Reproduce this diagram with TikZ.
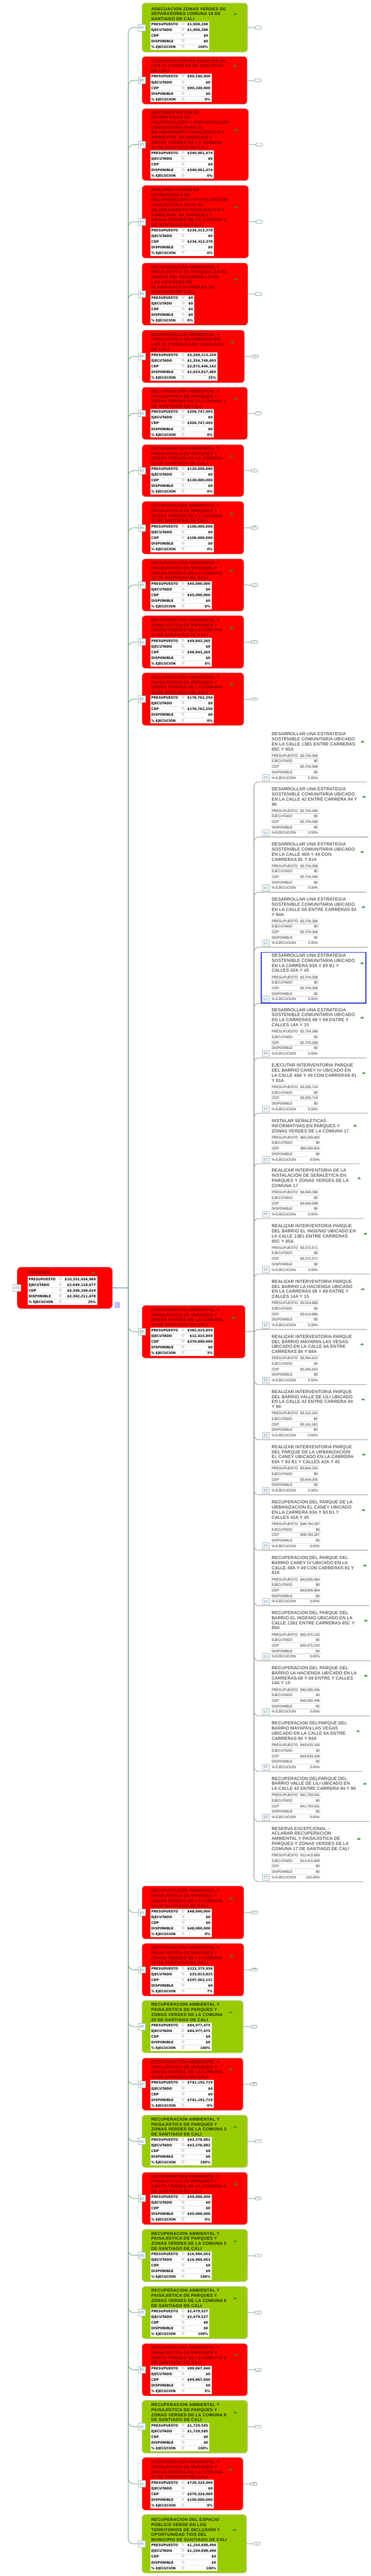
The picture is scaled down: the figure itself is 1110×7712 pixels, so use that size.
\documentclass[tikz,border=0pt]{standalone}
\usepackage{fontspec}
\setmainfont{Liberation Sans}
\newfontfamily\mtf[LetterSpace=5]{Liberation Sans}
\newfontfamily\rtf[LetterSpace=3]{Liberation Sans}
\newfontfamily\dvs{DejaVu Sans}
\usetikzlibrary{calc,fit}
\definecolor{mred}{HTML}{FF0000}
\definecolor{mgreen}{HTML}{99CC00}
\definecolor{tred}{HTML}{740000}
\definecolor{tgreen}{HTML}{1C2600}
\definecolor{lcol}{HTML}{7DAE8C}
\definecolor{rcol}{HTML}{9A9A9A}
\definecolor{rootc}{HTML}{3E6E8E}
\definecolor{trig}{HTML}{2F8F3F}
\definecolor{icb}{HTML}{9FB8A8}
\definecolor{iconfill}{HTML}{A9BFD9}
\definecolor{selblue}{HTML}{1F2FD0}
\tikzset{
 mbox/.style={draw=black!22, line width=0.5pt, rounded corners=5pt, inner sep=0pt},
 rbox/.style={fill=mred},
 gbox/.style={fill=mgreen},
 rboxt/.style={text=tred},
 gboxt/.style={text=tgreen},
 mtitle/.style={inner sep=0pt, align=left, font=\mtf\bfseries\fontsize{6.3}{7.5}\selectfont},
 mtab/.style={fill=white, inner sep=0pt, font=\dvs\bfseries\fontsize{4.9}{6}\selectfont},
 rtab/.style={fill=white, inner sep=0pt, font=\fontsize{5.2}{6}\selectfont, text=black!85},
 rtitle/.style={inner sep=0pt, align=left, text=black!88, font=\rtf\fontsize{6.5}{7.6}\selectfont},
 rowline/.style={draw=black!12, line width=0.5pt},
 rrowline/.style={draw=black!13, line width=0.9pt},
 lconn/.style={draw=lcol, line width=0.9pt, rounded corners=8pt},
 rconn/.style={draw=rcol, line width=0.8pt, rounded corners=7pt},
 rootlink/.style={draw=rootc, line width=0.8pt},
 mlink/.style={draw=lcol, line width=0.6pt},
 pill/.style={draw=lcol!80!black, fill=white, line width=0.5pt, rounded corners=2pt, minimum width=10pt, minimum height=4.4pt, inner sep=0pt, font=\fontsize{3.4}{3.6}\selectfont, text=black!70},
 noteicon/.style={draw=icb, fill=white, line width=0.5pt, minimum width=11pt, minimum height=10pt, inner sep=0pt,
   path picture={\fill[iconfill] ($(path picture bounding box.center)+(-6,-4)$) rectangle ($(path picture bounding box.center)+(6,4)$);
     \draw[white, line width=0.3pt] ($(path picture bounding box.center)+(-4,-1)$) -- ($(path picture bounding box.center)+(4,-1)$)
       ($(path picture bounding box.center)+(-4,1.5)$) -- ($(path picture bounding box.center)+(4,1.5)$);}},
 docicon/.style={draw=blue!60, fill=white, line width=0.5pt, minimum width=6pt, minimum height=7pt, inner sep=0pt,
   path picture={\draw[blue!60, line width=0.4pt] ($(path picture bounding box.center)+(-3,-3)$) -- ($(path picture bounding box.center)+(3,-3)$)
       ($(path picture bounding box.center)+(-3,0)$) -- ($(path picture bounding box.center)+(3,0)$)
       ($(path picture bounding box.center)+(-3,3)$) -- ($(path picture bounding box.center)+(3,3)$);}},
 uptri/.pic={\fill[trig] (-6,2.5) -- (6,2.5) -- (0,-3) -- cycle;},
}
\newcommand\gear{\makebox[7pt]{\textcolor{black!30}{\dvs\mdseries\fontsize{6.2}{6}\selectfont ⚙}}}
\newcommand\RS{\rule[-2.6pt]{0pt}{8.5pt}}
\newcommand\RSr{\rule[-2.4pt]{0pt}{8.25pt}}
\newcommand\MLB[1]{\makebox[44pt][l]{#1}}
\newcommand\RLB[1]{\makebox[43pt][l]{#1}}
% middle node: name, top, bottom, right, style, title
\newcommand\MN[6]{%
 \node[mbox,#5,fit={(425,#2) (#4,#3)}] (#1) {};
 \node[noteicon] (#1i) at (#1.west) {};
 \draw[lconn] (lj) |- (#1i.west);
 \node[mtitle,#5t,anchor=south west] (#1t) at ($(#1.south west)+(28,-95)$) {#6};
 \coordinate (#1tx) at ($(#1.north east)+(-37,0)$);
 \pic at (#1tx |- #1t.center) {uptri};
}
% middle table: name, 5 values
\newcommand\MT[6]{%
 \node[mtab,anchor=south west] (#1tab) at ($(#1.south west)+(25,-6)$) {\renewcommand\arraystretch{0}%
  \begin{tabular}{@{\hspace{1.5pt}}l@{}c@{\hspace{3pt}}r@{\hspace{2pt}}}
  \MLB{PRESUPUESTO}&\gear&#2\RS\\
  \MLB{EJECUTADO}&\gear&#3\RS\\
  \MLB{CDP}&\gear&#4\RS\\
  \MLB{DISPONIBLE}&\gear&#5\RS\\
  \MLB{\% EJECUCION}&\gear&#6\RS
  \end{tabular}};
 \foreach \k in {1,...,4} \draw[rowline] ($(#1tab.north west)+(0,17*\k)$) -- ($(#1tab.north east)+(0,17*\k)$);
}
% marker
\newcommand\MK[2]{%
 \node[pill] (#1m) at ($(#1.east)+(31,0)$) {#2};
 \draw[mlink] (#1.east) -- (#1m.west);
}
% right item: name, y underline, triangle x, title, 5 values
\newcommand\RI[9]{%
 \coordinate (#1e) at ({#3+13},#2);
 \node[rtitle,anchor=south west] (#1) at (813,{#2-93}) {#4};
 \coordinate (#1tx) at (#3,#2);
 \pic at (#1tx |- #1.center) {uptri};
 \node[rtab,anchor=north west] (#1tab) at (811,{#2-87}) {\renewcommand\arraystretch{0}%
  \begin{tabular}{@{\hspace{1pt}}l@{}r@{\hspace{2pt}}}
  \RLB{PRESUPUESTO}&#5\RSr\\
  \RLB{EJECUTADO}&#6\RSr\\
  \RLB{CDP}&#7\RSr\\
  \RLB{DISPONIBLE}&#8\RSr\\
  \RLB{\% EJECUCION}&#9\RSr
  \end{tabular}};
 \foreach \k in {0,...,4} \draw[rrowline] ($(#1tab.north west)+(0,16.5*\k)$) -- ($(#1tab.north east)+(0,16.5*\k)$);
 \node[noteicon, minimum width=10pt, minimum height=9pt] (#1i) at (795,{#2-13}) {};
 \draw[rconn] (rj) |- (#1e);
}
\begin{document}
\begin{tikzpicture}[x=0.5pt,y=-0.5pt]
\useasboundingbox (0,0) rectangle (1110,7712);
\fill[white] (0,0) rectangle (1110,7712);
\coordinate (lj) at (384,3856);
\coordinate (rj) at (760,3987);

% root
\node[mbox,rbox,rounded corners=6pt,fit={(51,3793) (337,3918)}] (root) {};
\node[mtab,anchor=south west] (roottab) at ($(root.south west)+(32,-12)$) {\renewcommand\arraystretch{0}%
  \begin{tabular}{@{\hspace{1.5pt}}l@{}c@{\hspace{3pt}}r@{\hspace{2pt}}}
  \MLB{PRESUPUESTO}&\gear&\$10,351,436,969\RS\\
  \MLB{EJECUTADO}&\gear&\$2,649,118,677\RS\\
  \MLB{CDP}&\gear&\$5,340,106,614\RS\\
  \MLB{DISPONIBLE}&\gear&\$2,362,211,678\RS\\
  \MLB{\% EJECUCION}&\gear&25\%\RS
  \end{tabular}};
\foreach \k in {1,...,4} \draw[rowline] ($(roottab.north west)+(0,17*\k)$) -- ($(roottab.north east)+(0,17*\k)$);
\node[mtitle,rboxt,anchor=south west] (roott) at ($(roottab.north west)+(3,-4)$) {PARQUES};
\coordinate (roottx) at (279,0);
\pic at (roottx |- roott.center) {uptri};
\node[noteicon] (rooti) at (root.west) {};
\node[docicon] (rootdoc) at (351,3906) {};
\draw[rootlink] (root.east) -- (lj);

% middle column
\MN{m1}{9}{156}{741}{gbox}{ADECUACION ZONAS VERDES DE\\SEPARADORES  COMUNA 16 DE\\SANTIAGO DE CALI}
\MT{m1}{\$1,900,288}{\$1,900,288}{\$0}{\$0}{100\%}
\MK{m1}{}
\MN{m2}{169}{312}{740}{rbox}{CONSTRUCCIÓN DE PARQUES EN\\LAS 22 COMUNAS DE SANTIAGO\\DE CALI}
\MT{m2}{\$90,240,000}{\$0}{\$90,240,000}{\$0}{0\%}
\MK{m2}{}
\MN{m3}{325}{541}{744}{rbox}{IMPLEMENTACIÓN DE\\ESTRATEGIAS DE\\RECUPERACIÓN Y PARTICIPACIÓN\\COMUNITARIA PARA EL\\MEJORAMIENTO PAISAJÍSTICO Y\\AMBIENTAL DE PARQUES Y\\ZONAS VERDES DE LA COMUNA\\20 DE SANTIAGO DE CALI}
\MT{m3}{\$340,001,474}{\$0}{\$0}{\$340,001,474}{0\%}
\MK{m3}{}
\MN{m4}{555}{773}{744}{rbox}{IMPLEMENTACIÓN DE\\ESTRATEGIAS DE\\RECUPERACION Y PARTICIPACIÓN\\COMUNITARIA PARA EL\\MEJORAMIENTO PAISAJÍSTICO Y\\AMBIENTAL DE PARQUES Y\\ZONAS VERDES DE LA COMUNA 6\\DE SANTIAGO DE CALI.}
\MT{m4}{\$234,313,378}{\$0}{\$234,313,378}{\$0}{0\%}
\MK{m4}{}
\MN{m5}{787}{974}{742}{rbox}{RECUPERACIÓN AMBIENTAL Y\\PAISAJÍSTICA DE PARQUES EN EL\\MARCO DEL DESARROLLO DE\\LAS UNIDADES DE\\PLANIFICACIÓN URBANA DE\\SANTIAGO DE CALI.}
\MT{m5}{\$0}{\$0}{\$0}{\$0}{0\%}
\MK{m5}{}
\MN{m6}{988}{1146}{732}{rbox}{RECUPERACION AMBIENTAL Y\\PAISAJISTICA DE PARQUES EN\\LAS 22 COMUNAS DE SANTIAGO\\DE CALI}
\MT{m6}{\$5,260,213,320}{\$1,354,749,693}{\$2,872,446,142}{\$1,033,017,485}{25\%}
\MK{m6}{27}
\MN{m7}{1159}{1316}{741}{rbox}{RECUPERACIÓN AMBIENTAL Y\\PAISAJISTICA DE PARQUES Y\\ZONAS VERDES DE LA COMUNA 1\\DE SANTIAGO DE CALI}
\MT{m7}{\$304,747,493}{\$0}{\$304,747,493}{\$0}{0\%}
\MK{m7}{}
\MN{m8}{1331}{1487}{730}{rbox}{RECUPERACION AMBIENTAL Y\\PAISAJISTICA DE PARQUES Y\\ZONAS VERDES DE LA COMUNA\\10 DE SANTIAGO DE CALI}
\MT{m8}{\$120,000,000}{\$0}{\$120,000,000}{\$0}{0\%}
\MK{m8}{4}
\MN{m9}{1501}{1659}{730}{rbox}{RECUPERACION AMBIENTAL Y\\PAISAJISTICA DE PARQUES Y\\ZONAS VERDES DE LA COMUNA\\11 DE SANTIAGO DE CALI}
\MT{m9}{\$100,000,000}{\$0}{\$100,000,000}{\$0}{0\%}
\MK{m9}{8}
\MN{m10}{1673}{1830}{730}{rbox}{RECUPERACION AMBIENTAL Y\\PAISAJISTICA DE PARQUES Y\\ZONAS VERDES DE LA COMUNA\\12 DE SANTIAGO DE CALI}
\MT{m10}{\$45,000,000}{\$0}{\$45,000,000}{\$0}{0\%}
\MK{m10}{2}
\MN{m11}{1843}{2001}{730}{rbox}{RECUPERACION AMBIENTAL Y\\PAISAJISTICA DE PARQUES Y\\ZONAS VERDES DE LA COMUNA\\13 DE SANTIAGO DE CALI}
\MT{m11}{\$49,843,265}{\$0}{\$49,843,265}{\$0}{0\%}
\MK{m11}{2}
\MN{m12}{2014}{2172}{730}{rbox}{RECUPERACIÓN AMBIENTAL Y\\PAISAJISTICA DE PARQUES Y\\ZONAS VERDES DE LA COMUNA\\15 DE SANTIAGO DE CALI}
\MT{m12}{\$176,762,256}{\$0}{\$176,762,256}{\$0}{0\%}
\MK{m12}{12}
\MN{m13}{3908}{4066}{734}{rbox}{RECUPERACION AMBIENTAL Y\\PAISAJISTICA DE PARQUES Y\\ZONAS VERDES DE LA COMUNA\\17 DE SANTIAGO DE CALI}
\MT{m13}{\$382,415,859}{\$12,415,859}{\$370,000,000}{\$0}{3\%}
\draw[rconn] (m13.east) -- (rj);
\MN{m14}{5646}{5805}{730}{rbox}{RECUPERACION AMBIENTAL Y\\PAISAJISTICA DE PARQUES Y\\ZONAS VERDES DE LA COMUNA\\18 DE SANTIAGO DE CALI}
\MT{m14}{\$48,000,000}{\$0}{\$0}{\$48,000,000}{0\%}
\MK{m14}{4}
\MN{m15}{5818}{5976}{730}{rbox}{RECUPERACION AMBIENTAL Y\\PAISAJISTICA DE PARQUES Y\\ZONAS VERDES DE LA COMUNA\\19 DE SANTIAGO DE CALI}
\MT{m15}{\$323,375,956}{\$25,813,825}{\$297,562,131}{\$0}{7\%}
\MK{m15}{15}
\MN{m16}{5989}{6146}{728}{gbox}{RECUPERACION AMBIENTAL Y\\PAISAJISTICA DE PARQUES Y\\ZONAS VERDES DE LA COMUNA\\20 DE SANTIAGO DE CALI}
\MT{m16}{\$84,977,475}{\$84,977,475}{\$0}{\$0}{100\%}
\MK{m16}{1}
\MN{m17}{6161}{6318}{728}{rbox}{RECUPERACIÓN AMBIENTAL Y\\PAISAJÍSTICA DE PARQUES Y\\ZONAS VERDES DE LA COMUNA\\22 DE SANTIAGO DE CALI}
\MT{m17}{\$741,192,719}{\$0}{\$0}{\$741,192,719}{0\%}
\MK{m17}{16}
\MN{m18}{6332}{6489}{741}{gbox}{RECUPERACION AMBIENTAL Y\\PAISAJISTICA DE PARQUES Y\\ZONAS VERDES DE LA COMUNA 3\\DE SANTIAGO DE CALI}
\MT{m18}{\$43,378,882}{\$43,378,882}{\$0}{\$0}{100\%}
\MK{m18}{1}
\MN{m19}{6503}{6660}{741}{rbox}{RECUPERACION AMBIENTAL Y\\PAISAJISTICA DE PARQUES Y\\ZONAS VERDES DE LA COMUNA 4\\DE SANTIAGO DE CALI}
\MT{m19}{\$50,000,000}{\$0}{\$0}{\$50,000,000}{0\%}
\MK{m19}{2}
\MN{m20}{6674}{6831}{741}{gbox}{RECUPERACION AMBIENTAL Y\\PAISAJISTICA DE PARQUES Y\\ZONAS VERDES DE LA COMUNA 5\\DE SANTIAGO DE CALI}
\MT{m20}{\$16,984,053}{\$16,984,053}{\$0}{\$0}{100\%}
\MK{m20}{1}
\MN{m21}{6845}{7002}{741}{gbox}{RECUPERACION AMBIENTAL Y\\PAISAJISTICA DE PARQUES Y\\ZONAS VERDES DE LA COMUNA 6\\DE SANTIAGO DE CALI}
\MT{m21}{\$2,479,527}{\$2,479,527}{\$0}{\$0}{100\%}
\MK{m21}{1}
\MN{m22}{7016}{7173}{741}{rbox}{RECUPERACIÓN AMBIENTAL Y\\PAISAJISTICA DE PARQUES Y\\ZONAS VERDES DE LA COMUNA 8\\DE SANTIAGO DE CALI}
\MT{m22}{\$99,867,040}{\$0}{\$99,867,040}{\$0}{0\%}
\MK{m22}{2}
\MN{m23}{7186}{7344}{741}{gbox}{RECUPERACION AMBIENTAL Y\\PAISAJISTICA DE PARQUES Y\\ZONAS VERDES DE LA COMUNA 9\\DE SANTIAGO DE CALI}
\MT{m23}{\$1,720,585}{\$1,720,585}{\$0}{\$0}{100\%}
\MK{m23}{1}
\MN{m24}{7357}{7515}{728}{rbox}{RECUPERACION AMBIENTAL Y\\PASIAJISTICA DE PARQUES Y\\ZONAS VERDES DE LA COMUNA\\21 DE SANTIAGO DE CALI}
\MT{m24}{\$729,324,909}{\$0}{\$579,324,909}{\$150,000,000}{0\%}
\MK{m24}{26}
\MN{m25}{7528}{7703}{738}{gbox}{RECUPERACION DEL ESPACIO\\PÚBLICO VERDE EN LOS\\TERRITORIOS DE INCLUSIÓN Y\\OPORTUNIDAD TIOS DEL\\MUNICIPIO DE SANTIAGO DE CALI}
\MT{m25}{\$1,104,698,490}{\$1,104,698,490}{\$0}{\$0}{100\%}
\MK{m25}{1}

% right column (children of comuna 17)
\RI{r1}{2341}{1085}{DESARROLLAR UNA ESTRATEGIA\\SOSTENIBLE COMUNITARIA UBICADO\\EN LA CALLE 13B1 ENTRE CARRERAS\\85C Y 85A}{\$2,704,368}{\$0}{\$2,704,368}{\$0}{0.00\%}
\RI{r2}{2506}{1090}{DESARROLLAR UNA ESTRATEGIA\\SOSTENIBLE COMUNITARIA UBICADO\\EN LA CALLE 42 ENTRE CARRERA 94 Y\\96}{\$2,704,368}{\$0}{\$2,704,368}{\$0}{0.00\%}
\RI{r3}{2671}{1084}{DESARROLLAR UNA ESTRATEGIA\\SOSTENIBLE COMUNITARIA UBICADO\\EN LA CALLE 48A Y 49 CON\\CARRERAS 81 Y 81A}{\$2,704,368}{\$0}{\$2,704,368}{\$0}{0.00\%}
\RI{r4}{2836}{1088}{DESARROLLAR UNA ESTRATEGIA\\SOSTENIBLE COMUNITARIA UBICADO\\EN LA CALLE 6A ENTRE CARRERAS 84\\Y 84A}{\$2,704,368}{\$0}{\$2,704,368}{\$0}{0.00\%}
\RI{r5}{3004}{1084}{DESARROLLAR UNA ESTRATEGIA\\SOSTENIBLE COMUNITARIA UBICADO\\EN LA CARRERA 83A  Y 83 B1 Y\\CALLES 42A Y 45}{\$2,704,368}{\$0}{\$2,704,368}{\$0}{0.00\%}
\node[draw=selblue, line width=1pt, inner sep=0pt, fit={(782,2851) (1095,3003)}] (sel) {};
\RI{r6}{3167}{1084}{DESARROLLAR UNA ESTRATEGIA\\SOSTENIBLE COMUNITARIA UBICADO\\EN LA CARRERAS 68 Y 69 ENTRE Y\\CALLES 14A Y 15}{\$2,704,368}{\$0}{\$2,704,368}{\$0}{0.00\%}
\RI{r7}{3333}{1089}{EJECUTAR INTERVENTORIA PARQUE\\DEL BARRIO CANEY IV UBICADO EN\\LA CALLE 48A Y 49 CON CARRERAS 81\\Y 81A}{\$3,255,724}{\$0}{\$3,255,724}{\$0}{0.00\%}
\RI{r8}{3484}{1063}{INSTALAR SEÑALETICAS\\INFORMATIVAS EN PARQUES Y\\ZONAS VERDES DE LA COMUNA 17}{\$65,359,902}{\$0}{\$65,359,902}{\$0}{0.00\%}
\RI{r9}{3648}{1075}{REALIZAR INTERVENTORIA DE LA\\INSTALACIÓN DE SEÑALÉTICA EN\\PARQUES Y ZONAS VERDES DE LA\\COMUNA 17}{\$4,640,098}{\$0}{\$4,640,098}{\$0}{0.00\%}
\RI{r10}{3814}{1094}{REALIZAR INTERVENTORIA PARQUE\\DEL BARRIO EL INGENIO UBICADO EN\\LA CALLE 13B1 ENTRE CARRERAS\\85C Y 85A}{\$3,372,571}{\$0}{\$3,372,571}{\$0}{0.00\%}
\RI{r11}{3980}{1086}{REALIZAR INTERVENTORIA PARQUE\\DEL BARRIO LA HACIENDA UBICADO\\EN LA CARRERAS 68 Y 69 ENTRE Y\\CALLES 14A Y 15}{\$3,014,886}{\$0}{\$3,014,886}{\$0}{0.00\%}
\RI{r12}{4145}{1084}{REALIZAR INTERVENTORIA PARQUE\\DEL BARRIO MAYAPAN LAS VEGAS\\UBICADO EN LA CALLE 6A ENTRE\\CARRERAS 84 Y 84A}{\$3,264,623}{\$0}{\$3,264,623}{\$0}{0.00\%}
\RI{r13}{4310}{1087}{REALIZAR INTERVENTORIA PARQUE\\DEL BARRIO VALLE DE LILI UBICADO\\EN LA CALLE 42 ENTRE CARRERA 94\\Y 96}{\$3,114,163}{\$0}{\$3,114,163}{\$0}{0.00\%}
\RI{r14}{4475}{1089}{REALIZAR INTERVENTORIA PARQUE\\DEL PARQUE DE LA URBANIZACION\\EL CANEY UBICADO EN LA CARRERA\\83A  Y 83 B1 Y  CALLES 42A Y 45}{\$3,604,205}{\$0}{\$3,604,205}{\$0}{0.00\%}
\RI{r15}{4641}{1088}{RECUPERACION DEL PARQUE DE LA\\URBANIZACION EL CANEY UBICADO\\EN LA CARRERA 83A  Y 83 B1 Y\\CALLES 42A Y 45}{\$48,784,287}{\$0}{\$48,784,287}{\$0}{0.00\%}
\RI{r16}{4807}{1092}{RECUPERACION DEL PARQUE DEL\\BARRIO CANEY IV UBICADO EN LA\\CALLE 48A Y 49 CON CARRERAS 81 Y\\81A}{\$43,805,964}{\$0}{\$43,805,964}{\$0}{0.00\%}
\RI{r17}{4972}{1095}{RECUPERACION DEL PARQUE DEL\\BARRIO EL INGENIO UBICADO EN LA\\CALLE 13B1 ENTRE CARRERAS 85C Y\\85A}{\$45,475,223}{\$0}{\$45,475,223}{\$0}{0.00\%}
\RI{r18}{5137}{1095}{RECUPERACION DEL PARQUE DEL\\BARRIO LA HACIENDA UBICADO EN LA\\CARRERAS 68 Y 69 ENTRE Y CALLES\\14A Y 15}{\$40,365,346}{\$0}{\$40,365,346}{\$0}{0.00\%}
\RI{r19}{5303}{1072}{RECUPERACION DELPARQUE DEL\\BARRIO MAYAPAN LAS VEGAS\\UBICADO EN LA CALLE 6A ENTRE\\CARRERAS 84 Y 84A}{\$43,933,169}{\$0}{\$43,933,169}{\$0}{0.00\%}
\RI{r20}{5453}{1092}{RECUPERACION DELPARQUE DEL\\BARRIO VALLE DE LILI UBICADO EN\\LA CALLE 42 ENTRE CARRERA 94 Y 96}{\$41,783,631}{\$0}{\$41,783,631}{\$0}{0.00\%}
\RI{r21}{5633}{1074}{RESERVA EXCEPCIONAL -\\ACLARAR-RECUPERACION\\AMBIENTAL Y PAISAJISTICA DE\\PARQUES Y ZONAS VERDES DE LA\\COMUNA 17 DE SANTIAGO DE CALI}{\$12,415,859}{\$12,415,859}{\$0}{\$0}{100.00\%}
\end{tikzpicture}
\end{document}
